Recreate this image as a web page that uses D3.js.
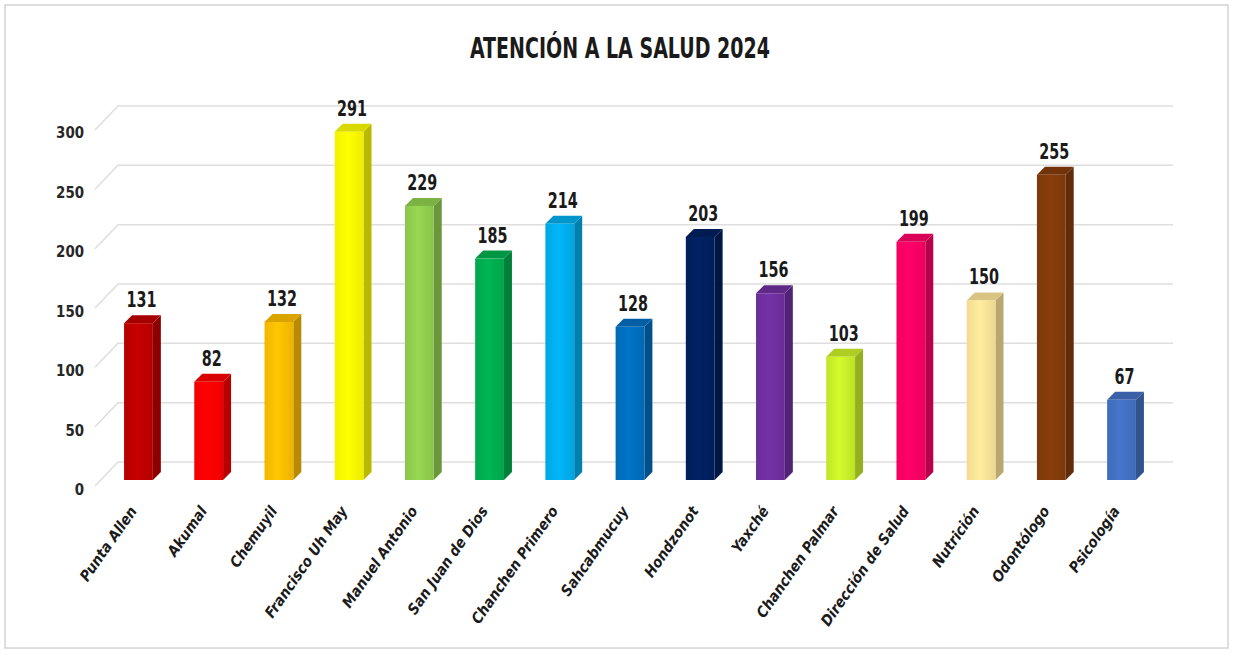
<!DOCTYPE html>
<html>
<head>
<meta charset="utf-8">
<script src="https://cdn.jsdelivr.net/npm/d3@7"></script>
<style>
  body { margin: 0; background: #fff; }
  text { font-family: "DejaVu Sans Condensed", "Liberation Sans Narrow", sans-serif; }
</style>
</head>
<body>
<div id="chart"></div>
<script>
// data
const categories = ["Punta Allen", "Akumal", "Chemuyil", "Francisco Uh May", "Manuel Antonio",
    "San Juan de Dios", "Chanchen Primero", "Sahcabmucuy", "Hondzonot", "Yaxché",
    "Chanchen Palmar", "Dirección de Salud", "Nutrición", "Odontólogo", "Psicología"];
const values = [131, 82, 132, 291, 229, 185, 214, 128, 203, 156, 103, 199, 150, 255, 67];
const barColors = ["#C00000", "#FF0000", "#FFC000", "#FFFF00", "#92D050", "#00B050", "#00B0F0",
    "#0070C0", "#002060", "#7030A0", "#CCF229", "#FF0066", "#FFE699", "#843C0C", "#4472C4"];
const yTicks = [0, 50, 100, 150, 200, 250, 300];
const title = "ATENCIÓN A LA SALUD 2024";

const width = 1233, height = 654;
const depth = 8;

const svg = d3.select("#chart").append("svg")
    .attr("width", width)
    .attr("height", height);

// frame
svg.append("rect")
    .attr("x", 5).attr("y", 5)
    .attr("width", 1223).attr("height", 643)
    .attr("fill", "#fff")
    .attr("stroke", "#d4d4d4")
    .attr("stroke-width", 1.5);

// scales
const x = d3.scaleBand().domain(categories).range([103, 1157]).paddingInner(0.59).paddingOuter(0.3);
const y = d3.scaleLinear().domain([0, 300]).range([480, 480 - 300 * 1.197]);
const yGrid = d3.scaleLinear().domain([0, 300]).range([462, 106]);
const yLab = d3.scaleLinear().domain([0, 300]).range([490, 133]);

// back wall gridlines with perspective stub
const grid = svg.append("g");
yTicks.forEach(function (t) {
    const gy = yGrid(t);
    grid.append("path")
        .attr("d", `M95,${gy + 24} L118,${gy} L1173,${gy}`)
        .attr("fill", "none")
        .attr("stroke", "#dedede")
        .attr("stroke-width", 1.5);
});

// y axis labels
const yAxis = svg.append("g")
    .attr("transform", "translate(84,0)")
    .call(d3.axisLeft(yLab).tickValues(yTicks).tickSize(0).tickPadding(0));
yAxis.select(".domain").remove();
yAxis.selectAll("text")
    .style("font-family", "'DejaVu Sans Condensed', sans-serif")
    .style("font-size", "15px")
    .style("font-weight", "bold")
    .attr("textLength", d => String(d).length * 9.3)
    .attr("lengthAdjust", "spacingAndGlyphs")
    .attr("fill", "#262626");

// gradient per bar for the front face
const defs = svg.append("defs");
barColors.forEach(function (c, i) {
    const g = defs.append("linearGradient").attr("id", "grad" + i);
    g.append("stop").attr("offset", "0%").attr("stop-color", d3.color(c).darker(0.15));
    g.append("stop").attr("offset", "45%").attr("stop-color", d3.color(c).brighter(0.1));
    g.append("stop").attr("offset", "100%").attr("stop-color", d3.color(c).darker(0.2));
});

// bars (front, side, top)
const bars = svg.append("g").selectAll("g")
    .data(values)
    .join("g");

bars.append("path")
    .attr("d", function (d, i) {
        const x1 = x(categories[i]) + x.bandwidth(), t = y(d), b = y(0);
        return `M${x1},${t} L${x1 + depth},${t - depth} L${x1 + depth},${b - depth} L${x1},${b} Z`;
    })
    .attr("fill", (d, i) => d3.color(barColors[i]).darker(0.9));

bars.append("path")
    .attr("d", function (d, i) {
        const x0 = x(categories[i]), x1 = x0 + x.bandwidth(), t = y(d);
        return `M${x0},${t} L${x0 + depth},${t - depth} L${x1 + depth},${t - depth} L${x1},${t} Z`;
    })
    .attr("fill", (d, i) => d3.color(barColors[i]).darker(0.45));

bars.append("rect")
    .attr("x", (d, i) => x(categories[i]))
    .attr("y", d => y(d))
    .attr("width", x.bandwidth())
    .attr("height", d => y(0) - y(d))
    .attr("fill", (d, i) => `url(#grad${i})`);

// value labels
svg.append("g").selectAll("text")
    .data(values)
    .join("text")
    .attr("x", (d, i) => x(categories[i]) + x.bandwidth() / 2 + 3)
    .attr("y", d => y(d) - 16)
    .attr("text-anchor", "middle")
    .attr("textLength", d => String(d).length * 10)
    .attr("lengthAdjust", "spacingAndGlyphs")
    .style("font-size", "22px")
    .style("font-weight", "bold")
    .attr("fill", "#1a1a1a")
    .text(d => d);

// category labels
svg.append("g").selectAll("text")
    .data(categories)
    .join("text")
    .attr("transform", d => `translate(${x(d) + x.bandwidth() / 2 - 1},${511}) rotate(-55)`)
    .attr("text-anchor", "end")
    .style("font-size", "15px")
    .style("font-weight", "bold")
    .style("font-style", "italic")
    .attr("fill", "#1a1a1a")
    .text(d => d);

// title
svg.append("text")
    .attr("x", 620)
    .attr("y", 58)
    .attr("text-anchor", "middle")
    .attr("textLength", 300)
    .attr("lengthAdjust", "spacingAndGlyphs")
    .style("font-size", "28px")
    .style("font-weight", "bold")
    .attr("fill", "#1a1a1a")
    .text(title);
</script>
</body>
</html>
